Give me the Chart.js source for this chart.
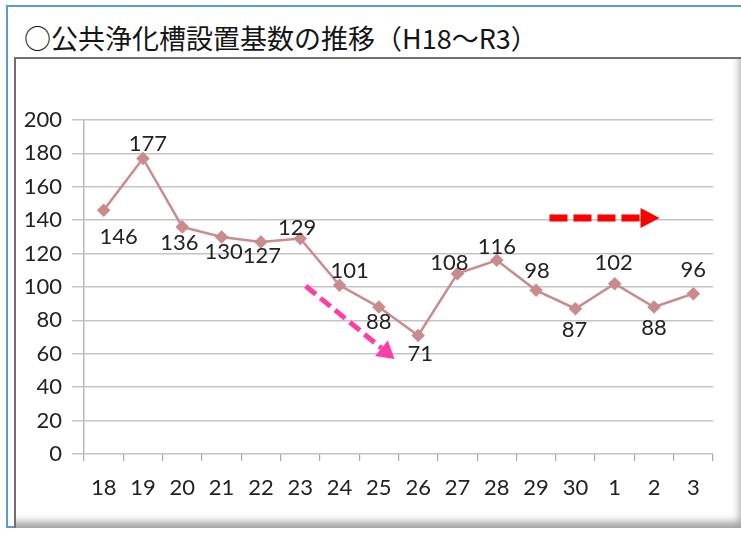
<!DOCTYPE html>
<html>
<head>
<meta charset="utf-8">
<script src="https://cdn.jsdelivr.net/npm/chart.js@4/dist/chart.umd.min.js"></script>
<style>
  html, body { margin: 0; padding: 0; background: #fff; }
  #wrap { position: relative; width: 741px; height: 535px; overflow: hidden; }
  #outer { position: absolute; left: 6px; top: 5px; width: 760px; height: 523px;
           border: 2px solid #5B9BD5; box-sizing: border-box; }
  #inner { position: absolute; left: 14px; top: 57px; width: 730px; height: 471px;
           border-left: 2px solid #707070; border-top: 2px solid #707070; box-sizing: border-box;
           box-shadow: inset -9px -11px 9px -5px rgba(0,0,0,0.38); background: #fff; }
  #title { position: absolute; left: 24px; top: 19px; font: 27px "Noto Sans CJK JP", sans-serif;
           color: #151515; white-space: nowrap; line-height: 38px; }
  canvas { position: absolute; left: 0; top: 0; }
</style>
</head>
<body>
<div id="wrap">
  <div id="outer"></div>
  <div id="inner"></div>
  <div id="title">○公共浄化槽設置基数の推移（H18～R3）</div>
  <canvas id="c" width="741" height="535"></canvas>
</div>
<script>
// ---- data ----
const categories = ['18','19','20','21','22','23','24','25','26','27','28','29','30','1','2','3'];
const values = [146,177,136,130,127,129,101,88,71,108,116,98,87,102,88,96];
const yMin = 0, yMax = 200, yStep = 20;

// ---- styling (label offsets in px relative to each point) ----
const labelOffsets = [
  [15,27],[5,-15],[-3,16],[2,15],[1,14],[-3,-11],[10,-14],[0,15],
  [2,18],[-8,-11],[0,-13],[1,-19],[-1,21],[-1,-21],[0,21],[0,-24]
];
const arrows = [
  { from:{x:5.14, y:100.6}, to:{x:7.40, y:56.9}, color:'#FF3DA5', width:5, dash:[13,6], headLen:17, headHalf:10 },
  { from:{x:11.34, y:141.3}, to:{x:14.14, y:141.3}, color:'#FF0000', width:7, dash:[18,6], headLen:19, headHalf:10 }
];

const FONT = 'Lato, "Liberation Sans", sans-serif';

const labelPlugin = {
  id: 'pointLabels',
  afterDatasetsDraw(chart) {
    const ctx = chart.ctx;
    const meta = chart.getDatasetMeta(0);
    ctx.save();
    ctx.font = '22px ' + FONT;
    ctx.fillStyle = '#222';
    ctx.textAlign = 'center';
    ctx.textBaseline = 'middle';
    meta.data.forEach((pt, i) => {
      const o = labelOffsets[i];
      ctx.fillText(String(values[i]), pt.x + o[0], pt.y + o[1]);
    });
    ctx.restore();
  }
};

const arrowPlugin = {
  id: 'arrows',
  afterDatasetsDraw(chart) {
    const ctx = chart.ctx;
    const xs = chart.scales.x, ys = chart.scales.y;
    arrows.forEach(a => {
      const x1 = xs.getPixelForValue(a.from.x), y1 = ys.getPixelForValue(a.from.y);
      const x2 = xs.getPixelForValue(a.to.x), y2 = ys.getPixelForValue(a.to.y);
      const ang = Math.atan2(y2 - y1, x2 - x1);
      const bx = x2 - Math.cos(ang) * a.headLen, by = y2 - Math.sin(ang) * a.headLen;
      ctx.save();
      ctx.strokeStyle = a.color;
      ctx.fillStyle = a.color;
      ctx.lineWidth = a.width;
      ctx.setLineDash(a.dash);
      ctx.beginPath();
      ctx.moveTo(x1, y1);
      ctx.lineTo(bx, by);
      ctx.stroke();
      ctx.setLineDash([]);
      ctx.beginPath();
      ctx.moveTo(x2, y2);
      ctx.lineTo(bx + Math.sin(ang) * a.headHalf, by - Math.cos(ang) * a.headHalf);
      ctx.lineTo(bx - Math.sin(ang) * a.headHalf, by + Math.cos(ang) * a.headHalf);
      ctx.closePath();
      ctx.fill();
      ctx.restore();
    });
  }
};

new Chart(document.getElementById('c'), {
  type: 'line',
  data: {
    labels: categories,
    datasets: [{
      data: values,
      borderColor: '#C98B8B',
      backgroundColor: '#C98B8B',
      borderWidth: 2.5,
      pointStyle: 'rectRot',
      pointRadius: 5,
      pointHoverRadius: 5,
      tension: 0
    }]
  },
  options: {
    responsive: false,
    animation: false,
    events: [],
    layout: { padding: { left: 0, right: 28, top: 120, bottom: 31 } },
    plugins: { legend: { display: false }, title: { display: false }, tooltip: { enabled: false } },
    scales: {
      x: {
        offset: true,
        grid: { offset: true, drawOnChartArea: false, drawTicks: true, tickLength: 7, color: '#A8A8A8', lineWidth: 1.2 },
        border: { display: false },
        ticks: { font: { family: FONT, size: 22 }, color: '#222', padding: 14, maxRotation: 0, autoSkip: false },
        afterFit(scale) { scale.height = 50; }
      },
      y: {
        min: yMin, max: yMax,
        grid: { color: '#C4C4C4', lineWidth: 1.5, tickLength: 12, drawTicks: true },
        border: { display: true, color: '#B8B8B8', width: 1.5 },
        ticks: { stepSize: yStep, font: { family: FONT, size: 22 }, color: '#222', padding: 10 },
        afterFit(scale) { scale.width = 84; }
      }
    }
  },
  plugins: [labelPlugin, arrowPlugin]
});
</script>
</body>
</html>
